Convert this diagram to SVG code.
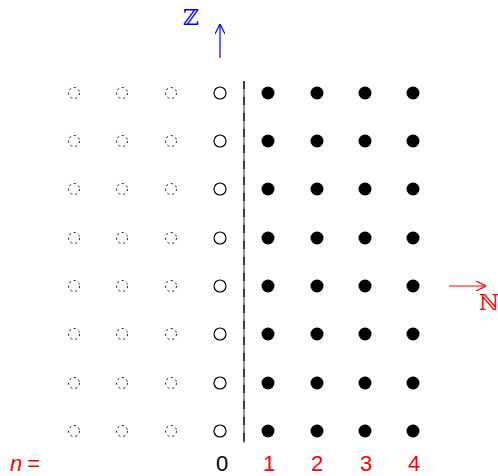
<svg xmlns="http://www.w3.org/2000/svg" width="498" height="476" viewBox="0 0 498 476">
<defs>
<style>
.g{fill:none;stroke:#222;stroke-width:1;stroke-dasharray:2.2,2.8}
.o{fill:#fff;stroke:#000;stroke-width:1.2}
.f{fill:#000}
.lab{font-family:"Liberation Sans",Arial,sans-serif;font-size:22px;text-anchor:middle}
.bb{font-family:"DejaVu Serif",serif;font-size:22px}
</style>
<marker id="ab" viewBox="0 0 10 10" refX="9" refY="5" markerWidth="10" markerHeight="10" orient="auto" markerUnits="userSpaceOnUse"><path d="M0,0 L10,5 L0,10" fill="none" stroke="#0000ff" stroke-width="1.2"/></marker>
<marker id="ar" viewBox="0 0 10 10" refX="9" refY="5" markerWidth="10" markerHeight="10" orient="auto" markerUnits="userSpaceOnUse"><path d="M0,0 L10,5 L0,10" fill="none" stroke="#ff0000" stroke-width="1.2"/></marker>
</defs>
<rect width="498" height="476" fill="#fff"/>
<g id="connectors">
<line x1="244" y1="81" x2="244" y2="443" stroke="#888" stroke-width="1.8"/>
<line x1="244" y1="81" x2="244" y2="443" stroke="#333" stroke-width="1.8" stroke-dasharray="8,8"/>
<line x1="220" y1="58" x2="220" y2="25" stroke="#0000ff" stroke-width="1.2" marker-end="url(#ab)"/>
<line x1="449" y1="286" x2="485" y2="286" stroke="#ff0000" stroke-width="1.2" marker-end="url(#ar)"/>
</g>
<g id="ghost">
<g id="r1"><circle class="g" cx="74" cy="93" r="5.5"/><circle class="g" cx="122" cy="93" r="5.5"/><circle class="g" cx="171" cy="93" r="5.5"/></g>
<g id="r2"><circle class="g" cx="74" cy="141" r="5.5"/><circle class="g" cx="122" cy="141" r="5.5"/><circle class="g" cx="171" cy="141" r="5.5"/></g>
<g id="r3"><circle class="g" cx="74" cy="189" r="5.5"/><circle class="g" cx="122" cy="189" r="5.5"/><circle class="g" cx="171" cy="189" r="5.5"/></g>
<g id="r4"><circle class="g" cx="74" cy="238" r="5.5"/><circle class="g" cx="122" cy="238" r="5.5"/><circle class="g" cx="171" cy="238" r="5.5"/></g>
<g id="r5"><circle class="g" cx="74" cy="286" r="5.5"/><circle class="g" cx="122" cy="286" r="5.5"/><circle class="g" cx="171" cy="286" r="5.5"/></g>
<g id="r6"><circle class="g" cx="74" cy="334" r="5.5"/><circle class="g" cx="122" cy="334" r="5.5"/><circle class="g" cx="171" cy="334" r="5.5"/></g>
<g id="r7"><circle class="g" cx="74" cy="383" r="5.5"/><circle class="g" cx="122" cy="383" r="5.5"/><circle class="g" cx="171" cy="383" r="5.5"/></g>
<g id="r8"><circle class="g" cx="74" cy="431" r="5.5"/><circle class="g" cx="122" cy="431" r="5.5"/><circle class="g" cx="171" cy="431" r="5.5"/></g>
</g>
<g id="zero">
<circle class="o" cx="220" cy="93" r="6"/><circle class="o" cx="220" cy="141" r="6"/><circle class="o" cx="220" cy="189" r="6"/><circle class="o" cx="220" cy="238" r="6"/><circle class="o" cx="220" cy="286" r="6"/><circle class="o" cx="220" cy="334" r="6"/><circle class="o" cx="220" cy="383" r="6"/><circle class="o" cx="220" cy="431" r="6"/>
</g>
<g id="naturals">
<g id="c1"><circle class="f" cx="268" cy="93" r="6.5"/><circle class="f" cx="268" cy="141" r="6.5"/><circle class="f" cx="268" cy="189" r="6.5"/><circle class="f" cx="268" cy="238" r="6.5"/><circle class="f" cx="268" cy="286" r="6.5"/><circle class="f" cx="268" cy="334" r="6.5"/><circle class="f" cx="268" cy="383" r="6.5"/><circle class="f" cx="268" cy="431" r="6.5"/></g>
<g id="c2"><circle class="f" cx="317" cy="93" r="6.5"/><circle class="f" cx="317" cy="141" r="6.5"/><circle class="f" cx="317" cy="189" r="6.5"/><circle class="f" cx="317" cy="238" r="6.5"/><circle class="f" cx="317" cy="286" r="6.5"/><circle class="f" cx="317" cy="334" r="6.5"/><circle class="f" cx="317" cy="383" r="6.5"/><circle class="f" cx="317" cy="431" r="6.5"/></g>
<g id="c3"><circle class="f" cx="365" cy="93" r="6.5"/><circle class="f" cx="365" cy="141" r="6.5"/><circle class="f" cx="365" cy="189" r="6.5"/><circle class="f" cx="365" cy="238" r="6.5"/><circle class="f" cx="365" cy="286" r="6.5"/><circle class="f" cx="365" cy="334" r="6.5"/><circle class="f" cx="365" cy="383" r="6.5"/><circle class="f" cx="365" cy="431" r="6.5"/></g>
<g id="c4"><circle class="f" cx="413" cy="93" r="6.5"/><circle class="f" cx="413" cy="141" r="6.5"/><circle class="f" cx="413" cy="189" r="6.5"/><circle class="f" cx="413" cy="238" r="6.5"/><circle class="f" cx="413" cy="286" r="6.5"/><circle class="f" cx="413" cy="334" r="6.5"/><circle class="f" cx="413" cy="383" r="6.5"/><circle class="f" cx="413" cy="431" r="6.5"/></g>
</g>
<g id="labels">
<text class="bb" x="183" y="25" fill="#0000ff">ℤ</text>
<text class="bb" x="479" y="310" fill="#ff0000">ℕ</text>
<text x="10" y="471" fill="#ff0000" font-family="Liberation Sans,Arial,sans-serif" font-size="22px"><tspan font-style="italic">n</tspan><tspan dx="5">=</tspan></text>
<text class="lab" x="222" y="471" fill="#000">0</text>
<text class="lab" x="269" y="471" fill="#ff0000">1</text>
<text class="lab" x="317" y="471" fill="#ff0000">2</text>
<text class="lab" x="366" y="471" fill="#ff0000">3</text>
<text class="lab" x="414" y="471" fill="#ff0000">4</text>
</g>
</svg>
